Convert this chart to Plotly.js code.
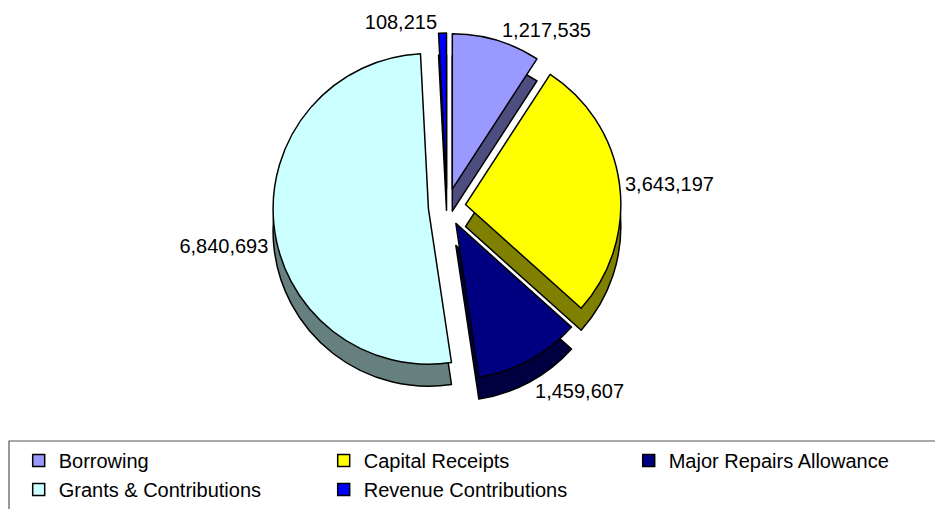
<!DOCTYPE html>
<html>
<head>
<meta charset="utf-8">
<script src="https://cdn.plot.ly/plotly-3.0.1.min.js"></script>
<style>html,body{margin:0;padding:0;background:#fff;}#chart{width:935px;height:509px;}</style>
</head>
<body>
<div id="chart"></div>
<script>
// Data
const categories = ["Borrowing", "Capital Receipts", "Major Repairs Allowance", "Grants & Contributions", "Revenue Contributions"];
const values = [1217535, 3643197, 1459607, 6840693, 108215];
const topColors = ["#9999FF", "#FFFF00", "#000080", "#CCFFFF", "#0000FF"];
const sideColors = ["#4D4D80", "#808000", "#000040", "#668080", "#000080"];
// which slices carry their value label on the top face vs. the lower (side) face
const labelOnTop = [true, true, false, false, true];

const pullAmt = categories.map(() => 0.12);
const fontFam = "Liberation Sans, Arial, sans-serif";

const H = 509, W = 935;
const cx = 447, cy = 207, half = 174, depth = 22;
function yDom(offset) {
  return [(H - (cy + half + offset)) / H, (H - (cy - half + offset)) / H];
}
const xDom = [(cx - half) / W, (cx + half) / W];

const sidePie = {
  type: "pie",
  labels: categories,
  values: values,
  sort: false,
  direction: "clockwise",
  rotation: 0,
  pull: pullAmt,
  marker: {colors: sideColors, line: {color: "#000", width: 1.5}},
  texttemplate: "%{value:,}",
  textposition: labelOnTop.map(t => t ? "none" : "outside"),
  outsidetextfont: {family: fontFam, size: 20, color: "#000"},
  automargin: false,
  hoverinfo: "skip",
  showlegend: false,
  domain: {x: xDom, y: yDom(depth)}
};

const topPie = {
  type: "pie",
  labels: categories,
  values: values,
  sort: false,
  direction: "clockwise",
  rotation: 0,
  pull: pullAmt,
  marker: {colors: topColors, line: {color: "#000", width: 1.5}},
  texttemplate: "%{value:,}",
  textposition: labelOnTop.map(t => t ? "outside" : "none"),
  outsidetextfont: {family: fontFam, size: 20, color: "#000"},
  automargin: false,
  domain: {x: xDom, y: yDom(0)}
};

const layout = {
  width: W, height: H,
  margin: {l: 0, r: 0, t: 0, b: 0},
  paper_bgcolor: "#fff",
  font: {family: fontFam, size: 20, color: "#000"},
  separators: ".,",
  showlegend: true,
  legend: {
    orientation: "h",
    x: 0.02, xanchor: "left",
    y: 0, yanchor: "bottom",
    entrywidth: 260,
    entrywidthmode: "pixels",
    font: {family: fontFam, size: 20, color: "#000"},
    bgcolor: "rgba(0,0,0,0)",
    borderwidth: 0,
    traceorder: "normal"
  },
  shapes: [{
    type: "rect", xref: "paper", yref: "paper",
    x0: 9 / W, x1: 1.01, y0: -0.01, y1: (H - 441) / H,
    line: {color: "#555", width: 1.2}, fillcolor: "rgba(0,0,0,0)"
  }]
};

Plotly.newPlot("chart", [sidePie, topPie], layout, {displayModeBar: false, staticPlot: true});
</script>
</body>
</html>
